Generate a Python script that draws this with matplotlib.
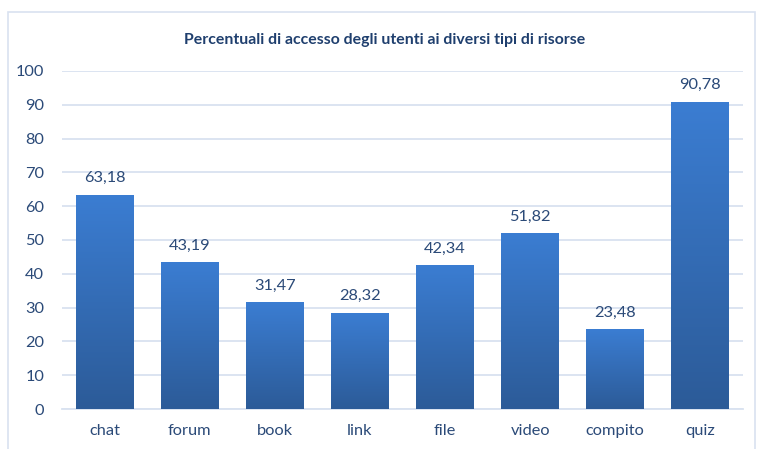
import numpy as np
import matplotlib.pyplot as plt
from matplotlib.patches import Rectangle
from matplotlib.colors import LinearSegmentedColormap

# dati
categorie = ["chat", "forum", "book", "link", "file", "video", "compito", "quiz"]
valori = [63.18, 43.19, 31.47, 28.32, 42.34, 51.82, 23.48, 90.78]
titolo = "Percentuali di accesso degli utenti ai diversi tipi di risorse"

plt.rcParams['font.family'] = ['Lato', 'DejaVu Sans']
testo = '#2b4a78'
griglia = '#d9e2f0'

fig = plt.figure(figsize=(7.58, 4.49), dpi=100)
# cornice esterna
fig.patches.append(Rectangle((0.011, -0.01), 0.985, 0.983, transform=fig.transFigure,
                             fill=False, edgecolor=griglia, linewidth=1.2))

ax = fig.add_axes([0.082, 0.089, 0.898, 0.753])
x = np.arange(len(categorie))
larghezza = 0.68

# barre con gradiente verticale
gradiente = np.linspace(0, 1, 256).reshape(-1, 1)
cmap = LinearSegmentedColormap.from_list('blu', ['#2c5b98', '#3b7dd2'])
for xi, v in zip(x, valori):
    ax.imshow(gradiente, extent=(xi - larghezza / 2, xi + larghezza / 2, 0, v),
              origin='lower', cmap=cmap, aspect='auto', zorder=3)
    ax.text(xi, v + 3, f"{v:.2f}".replace('.', ','), ha='center', va='bottom',
            fontsize=11.8, color=testo)

ax.set_xlim(-0.5, len(categorie) - 0.5)
ax.set_ylim(0, 100)
ax.set_yticks(range(0, 101, 10))
ax.set_xticks(x)
ax.set_xticklabels(categorie)
ax.tick_params(axis='both', length=0, labelsize=11.8, labelcolor=testo)
ax.tick_params(axis='x', pad=11)
ax.tick_params(axis='y', pad=13)
ax.grid(axis='y', color=griglia, linewidth=1.3, zorder=0)
for lato in ['top', 'right', 'left']:
    ax.spines[lato].set_visible(False)
ax.spines['bottom'].set_color(griglia)
ax.spines['bottom'].set_linewidth(1.3)

fig.text(0.508, 0.91, titolo, ha='center', va='center', fontsize=11.4,
         fontweight='bold', color='#1f3f6e')

plt.savefig("out.png", dpi=100)
